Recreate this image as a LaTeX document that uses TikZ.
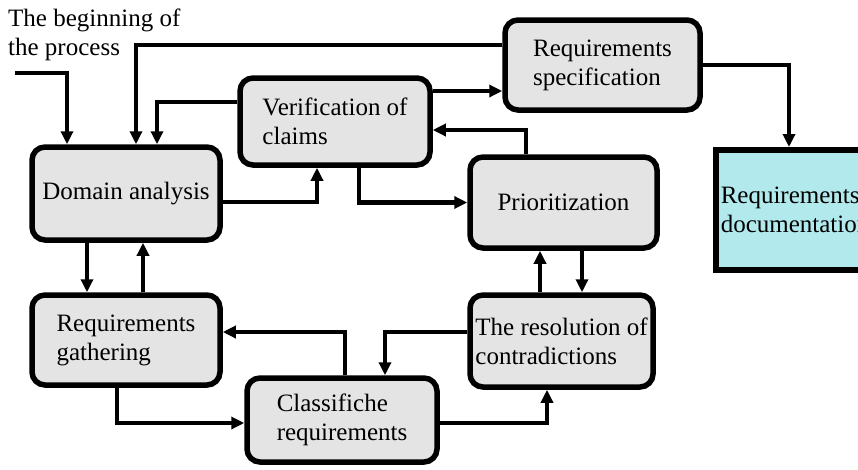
\documentclass[tikz,border=0pt]{standalone}
\usepackage{fontspec}
\setmainfont{Liberation Serif}
\usetikzlibrary{arrows.meta}

\definecolor{boxgray}{HTML}{E4E4E4}
\definecolor{doccyan}{HTML}{B2E9EC}

\begin{document}
\begin{tikzpicture}[x=1pt,y=-1pt,
  font=\fontsize{25}{29}\selectfont,
  >={Triangle[length=13pt,width=12pt]},
  stage/.style={draw,line width=5.5pt,rounded corners=13pt,fill=boxgray,align=left,inner sep=2pt},
  link/.style={->,line width=4.5pt}]
\useasboundingbox (0,0) rectangle (858,469);

\node[align=left,anchor=north west,inner sep=0pt] (begin) at (8,9) {The beginning of\\the process};
\coordinate (start) at (15,73);

\node[stage,minimum width=188pt,minimum height=93pt] (da) at (126,193.5) {Domain analysis};
\node[stage,minimum width=188pt,minimum height=90pt] (rg) at (126,340) {Requirements\\gathering};
\node[stage,minimum width=190pt,minimum height=87pt] (ver) at (335,121.5) {Verification of\\claims};
\node[stage,minimum width=195pt,minimum height=90pt] (spec) at (602.5,65) {Requirements\\specification};
\node[stage,minimum width=187pt,minimum height=91pt] (prio) at (563.5,202.5) {Prioritization};
\node[stage,minimum width=183pt,minimum height=92pt] (res) at (561.5,341) {The resolution of\\contradictions};
\node[stage,minimum width=190pt,minimum height=84pt] (cls) at (342,420) {Classifiche\\requirements};
\node[draw,line width=5.5pt,fill=doccyan,anchor=north west,align=left,text width=160pt,
  inner xsep=1pt,minimum width=170pt,minimum height=120pt] (doc) at (713,147) {Requirements\\documentation};

\draw[link] (start) -| ([xshift=-59pt]da.north);
\draw[link] ([yshift=20pt]spec.west) -| ([xshift=10pt]da.north);
\draw[link] ([yshift=19.5pt]ver.west) -| ([xshift=31pt]da.north);
\draw[link] ([yshift=-8.5pt]da.east) -| ([xshift=-18pt]ver.south);
\draw[link] ([xshift=24pt]ver.south) |- (prio.west);
\draw[link] ([yshift=30.5pt]ver.east) -- ([yshift=30.5pt]ver.east -| spec.west);
\draw[link] ([xshift=-37.5pt]prio.north) |- ([yshift=-8.5pt]ver.east);
\draw[link] (spec.east) -| ([xshift=76pt]doc.north west);

\draw[link] ([xshift=-39pt]da.south) -- ([xshift=-39pt]rg.north);
\draw[link] ([xshift=17pt]rg.north) -- ([xshift=17pt]da.south);
\draw[link] ([xshift=-9pt]rg.south) |- ([yshift=-3pt]cls.west);
\draw[link] ([xshift=3pt]cls.north) |- ([yshift=8pt]rg.east);
\draw[link] ([yshift=9pt]res.west) -| ([xshift=43pt]cls.north);
\draw[link] ([yshift=-3pt]cls.east) -| ([xshift=-14.5pt]res.south);
\draw[link] ([xshift=-21.5pt]res.north) -- ([xshift=-21.5pt]res.north |- prio.south);
\draw[link] ([xshift=18.5pt]prio.south) -- ([xshift=18.5pt]prio.south |- res.north);
\end{tikzpicture}
\end{document}
